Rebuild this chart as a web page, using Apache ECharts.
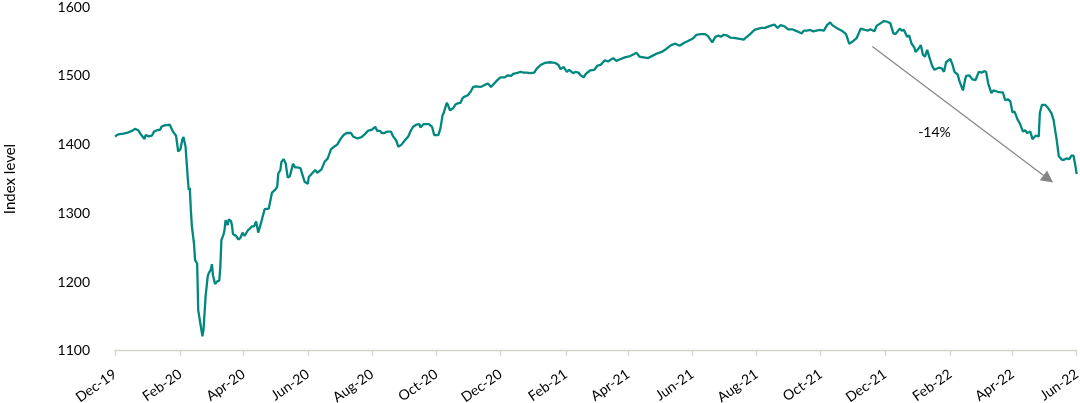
<!DOCTYPE html>
<html>
<head>
<meta charset="utf-8">
<style>
  html, body { margin: 0; padding: 0; background: #ffffff; }
  #chart { width: 1080px; height: 403px; }
</style>
<script src="https://cdn.jsdelivr.net/npm/echarts@6/dist/echarts.min.js"></script>
</head>
<body>
<div id="chart"></div>
<script>
// ---- Data ----
const startDate = '2019-12-01';
const endDate = '2022-06-01';
const tickDates = ['2019-12-01','2020-02-01','2020-04-01','2020-06-01','2020-08-01','2020-10-01','2020-12-01',
  '2021-02-01','2021-04-01','2021-06-01','2021-08-01','2021-10-01','2021-12-01','2022-02-01','2022-04-01','2022-06-01'];
const tickLabels = ['Dec-19','Feb-20','Apr-20','Jun-20','Aug-20','Oct-20','Dec-20',
  'Feb-21','Apr-21','Jun-21','Aug-21','Oct-21','Dec-21','Feb-22','Apr-22','Jun-22'];
const yTicks = [1100, 1200, 1300, 1400, 1500, 1600];

// [days since startDate, index level]
const indexLevel = [
  [0,1412],[3,1415],[8,1416],[13,1418],[16,1420],[19,1423],[22,1421],[25,1414],[28,1408],[29,1414],
  [32,1412],[35,1413],[37,1419],[40,1421],[43,1422],[44,1426],[47,1428],[52,1429],[53,1427],[55,1419],
  [58,1413],[60,1390],[62,1393],[64,1408],[65,1411],[67,1397],[69,1353],[70,1334],[71,1337],[72,1305],
  [73,1281],[74,1283],[75,1256],[76,1232],[78,1227],[79,1159],[81,1140],[83,1121],[84,1130],[86,1179],
  [88,1208],[89,1213],[91,1218],[92,1226],[93,1210],[95,1197],[97,1201],[99,1202],[100,1222],[101,1261],
  [103,1269],[104,1276],[105,1290],[107,1283],[108,1291],[110,1289],[111,1283],[112,1270],[115,1267],[117,1262],
  [119,1264],[121,1272],[123,1267],[126,1275],[128,1278],[130,1281],[132,1281],[134,1288],[136,1272],[137,1273],
  [139,1288],[142,1306],[146,1307],[149,1330],[152,1334],[154,1339],[155,1358],[157,1363],[158,1375],[160,1379],
  [162,1373],[164,1352],[166,1354],[167,1352],[169,1372],[171,1367],[173,1367],[176,1366],[178,1356],[180,1346],
  [183,1343],[184,1353],[187,1358],[190,1363],[192,1359],[196,1364],[199,1375],[202,1380],[205,1393],[208,1397],
  [211,1400],[214,1408],[217,1414],[220,1417],[224,1417],[226,1412],[230,1409],[234,1411],[237,1415],[240,1420],
  [244,1422],[247,1426],[249,1420],[252,1420],[253,1417],[256,1417],[258,1419],[262,1419],[264,1412],[267,1406],
  [269,1397],[272,1400],[275,1406],[278,1411],[279,1414],[281,1421],[283,1426],[286,1429],[289,1430],[290,1425],
  [293,1430],[298,1430],[301,1426],[303,1414],[307,1414],[309,1424],[311,1443],[312,1446],[315,1461],[316,1458],
  [318,1450],[321,1453],[323,1458],[325,1460],[328,1461],[330,1468],[332,1470],[335,1472],[338,1478],[340,1484],
  [343,1485],[347,1484],[351,1487],[354,1489],[357,1484],[360,1489],[363,1494],[366,1498],[370,1498],[373,1501],
  [376,1500],[378,1503],[381,1504],[385,1506],[388,1505],[391,1505],[394,1504],[398,1505],[400,1510],[404,1516],
  [408,1519],[413,1520],[418,1519],[421,1516],[423,1510],[426,1513],[429,1506],[431,1509],[435,1504],[437,1506],
  [440,1505],[442,1501],[445,1498],[447,1503],[451,1508],[455,1509],[458,1515],[461,1516],[465,1523],[468,1521],
  [473,1526],[476,1522],[479,1524],[484,1527],[489,1529],[493,1532],[495,1534],[498,1528],[502,1527],[506,1526],
  [511,1530],[515,1533],[519,1535],[523,1539],[528,1545],[532,1547],[536,1544],[540,1548],[544,1551],[549,1555],
  [552,1560],[556,1561],[560,1561],[563,1558],[567,1549],[570,1557],[573,1559],[575,1557],[578,1560],[581,1559],
  [584,1556],[589,1555],[593,1554],[597,1553],[599,1556],[603,1561],[607,1567],[611,1569],[614,1570],[617,1570],
  [622,1573],[626,1575],[629,1570],[632,1574],[636,1572],[639,1568],[643,1568],[646,1566],[649,1564],[652,1562],
  [654,1566],[657,1566],[660,1567],[663,1565],[666,1566],[669,1567],[673,1566],[676,1574],[679,1578],[681,1574],
  [685,1570],[690,1566],[694,1561],[697,1547],[701,1551],[704,1555],[708,1569],[712,1567],[715,1566],[717,1568],
  [721,1565],[723,1573],[727,1577],[730,1580],[733,1579],[736,1577],[739,1562],[741,1561],[745,1569],[747,1566],
  [749,1567],[752,1557],[754,1559],[756,1548],[759,1541],[760,1535],[763,1540],[765,1545],[767,1531],[769,1528],
  [771,1538],[774,1523],[776,1514],[778,1509],[782,1512],[785,1511],[787,1506],[789,1520],[793,1525],[795,1517],
  [797,1506],[800,1502],[802,1491],[805,1479],[807,1494],[808,1500],[811,1501],[814,1495],[817,1494],[820,1506],
  [823,1505],[825,1507],[827,1506],[829,1489],[832,1475],[834,1479],[838,1477],[841,1476],[843,1476],[845,1465],
  [848,1466],[850,1463],[852,1447],[854,1448],[857,1436],[859,1431],[862,1419],[864,1421],[866,1417],[869,1419],
  [871,1408],[874,1413],[877,1412],[878,1446],[880,1458],[883,1458],[886,1453],[889,1446],[891,1436],[894,1407],
  [896,1383],[899,1378],[901,1378],[903,1380],[906,1379],[908,1384],[910,1384],[912,1367],[913,1357]
];

// annotation: trend arrow and its label
const arrowFrom = [719, 1543];
const arrowTo = [886, 1350];
const arrowLabel = '-14%';
const arrowLabelAt = [778, 1418];

// ---- Build daily categories ----
function iso(t) { return new Date(t).toISOString().slice(0, 10); }
const categories = [];
{
  const t0 = Date.parse(startDate + 'T00:00:00Z');
  const t1 = Date.parse(endDate + 'T00:00:00Z');
  for (let t = t0; t <= t1; t += 86400000) categories.push(iso(t));
}
const tickMap = {};
tickDates.forEach((d, i) => { tickMap[d] = tickLabels[i]; });
const isTick = (idx, val) => Object.prototype.hasOwnProperty.call(tickMap, val);

const FONT = 'Lato, "Noto Sans", sans-serif';
const chart = echarts.init(document.getElementById('chart'), null, { renderer: 'canvas' });

chart.setOption({
  animation: false,
  backgroundColor: '#ffffff',
  grid: { left: 115, right: 3.3, top: 7.3, bottom: 52.3, containLabel: false, outerBoundsMode: 'none' },
  xAxis: {
    type: 'category',
    data: categories,
    boundaryGap: false,
    axisLine: { show: true, lineStyle: { color: '#d3d3c7', width: 1.3 } },
    axisTick: { show: true, interval: isTick, length: 5, lineStyle: { color: '#d3d3c7', width: 1.3 } },
    axisLabel: {
      interval: isTick,
      rotate: 35,
      margin: 22,
      fontFamily: FONT,
      fontSize: 14,
      color: '#000000',
      formatter: (v) => tickMap[v] || ''
    },
    splitLine: { show: false }
  },
  yAxis: {
    type: 'value',
    min: yTicks[0],
    max: yTicks[yTicks.length - 1],
    interval: 100,
    name: 'Index level',
    nameLocation: 'middle',
    nameGap: 97,
    nameTextStyle: { fontFamily: FONT, fontSize: 15, color: '#000000' },
    axisLine: { show: false },
    axisTick: { show: false },
    splitLine: { show: false },
    axisLabel: { margin: 25, fontFamily: FONT, fontSize: 14, color: '#000000', formatter: (v) => String(v) }
  },
  series: [{
    type: 'line',
    data: indexLevel,
    showSymbol: false,
    symbol: 'none',
    lineStyle: { color: '#00877f', width: 2.3 },
    itemStyle: { color: '#00877f' },
    markLine: {
      silent: true,
      animation: false,
      lineStyle: { color: '#858585', width: 1.2, type: 'solid' },
      label: { show: false },
      emphasis: { disabled: true },
      data: [[
        { coord: [categories[arrowFrom[0]], arrowFrom[1]], symbol: 'none' },
        { coord: [categories[arrowTo[0]], arrowTo[1]], symbol: 'triangle', symbolSize: 12 }
      ]]
    },
    markPoint: {
      silent: true,
      symbol: 'rect',
      symbolSize: 1,
      itemStyle: { color: 'rgba(0,0,0,0)' },
      label: {
        show: true,
        position: 'inside',
        formatter: arrowLabel,
        fontFamily: FONT,
        fontSize: 14,
        color: '#000000'
      },
      data: [{ coord: [categories[arrowLabelAt[0]], arrowLabelAt[1]] }]
    }
  }]
});
</script>
</body>
</html>
